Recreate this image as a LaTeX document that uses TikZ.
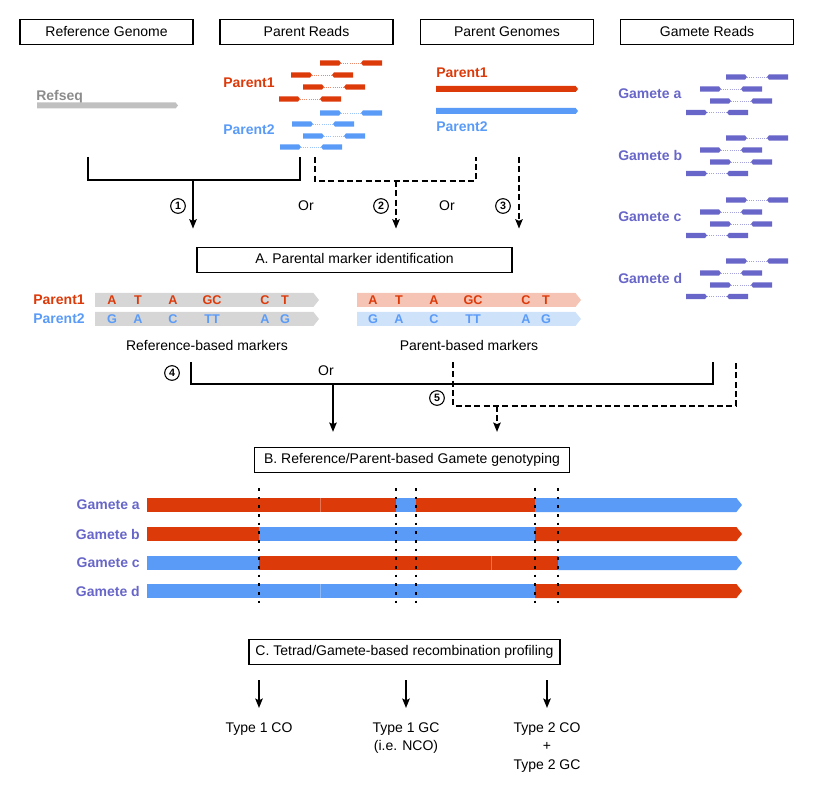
\documentclass[tikz,border=0pt]{standalone}
\usepackage{fontspec}
\setmainfont{Liberation Sans}
\usetikzlibrary{arrows,arrows.meta,positioning}

\definecolor{pred}{RGB}{221,58,10}
\definecolor{pblue}{RGB}{90,155,248}
\definecolor{gpurple}{RGB}{104,102,200}
\definecolor{refgray}{RGB}{192,192,192}
\definecolor{reftext}{RGB}{140,140,140}
\definecolor{mkgray}{RGB}{214,214,214}
\definecolor{lred}{RGB}{245,196,180}
\definecolor{lblue}{RGB}{206,226,250}

\newcommand{\readpair}[3]{%
  \fill[#3] (#1,#2-2.6) -- (#1+19,#2-2.6) -- (#1+21,#2) -- (#1+19,#2+2.6) -- (#1,#2+2.6) -- cycle;
  \draw[#3!60,densely dotted,line width=0.6pt] (#1+21,#2) -- (#1+41,#2);
  \fill[#3] (#1+41,#2) -- (#1+43,#2-2.6) -- (#1+62,#2-2.6) -- (#1+62,#2+2.6) -- (#1+43,#2+2.6) -- cycle;
}
\newcommand{\genbar}[5]{%
  \fill[#5] (#1,#3-#4/2) -- (#2-#4*0.4,#3-#4/2) -- (#2,#3) -- (#2-#4*0.4,#3+#4/2) -- (#1,#3+#4/2) -- cycle;
}
\newcommand{\gseg}[4]{\fill[#4] (#1,#3-7) rectangle (#2,#3+7);}

\begin{document}
\begin{tikzpicture}[x=0.75pt,y=-0.75pt,>={Stealth[length=7pt,width=5.5pt,inset=1.2pt]},font=\fontsize{10.5}{12.5}\selectfont]
  \tikzstyle{headbox}=[draw,line width=1.1pt,minimum width=130pt,minimum height=19pt]
  \tikzstyle{stage}=[draw,line width=1.1pt,minimum height=19pt,text height=7.6pt,text depth=2.2pt]
  \tikzstyle{lab}=[inner sep=0pt,text depth=0pt,font=\fontsize{10.5}{12.5}\selectfont\bfseries]
  \tikzstyle{mk}=[inner sep=0pt,font=\fontsize{9.5}{10}\selectfont\bfseries]
  \tikzstyle{circnum}=[circle,draw,line width=0.8pt,minimum size=11pt,inner sep=0pt,font=\fontsize{8}{8}\selectfont\bfseries]
  \tikzstyle{link}=[line width=1.6pt]
  \tikzstyle{alt}=[line width=1.6pt,dash pattern=on 4.5pt off 2.5pt]
  \tikzstyle{bkpt}=[line width=2pt,dash pattern=on 2pt off 4.5pt]

  \useasboundingbox (0,0) rectangle (813,791);

  \node[headbox] (hRef) at (106.5,32) {Reference Genome};
  \node[headbox] (hPR)  at (306.5,32) {Parent Reads};
  \node[headbox] (hPG)  at (507,32)   {Parent Genomes};
  \node[headbox] (hGR)  at (707,32)   {Gamete Reads};

  \node[lab,reftext,anchor=west] (refseq) at (36,95) {Refseq};
  \genbar{37}{178}{105.5}{6}{refgray}

  \node[lab,pred,anchor=west]  (rp1) at (223,83)  {Parent1};
  \node[lab,pblue,anchor=west] (rp2) at (223,130) {Parent2};
  \foreach \x/\y in {320/63,291/75,303/87,279/99} {\readpair{\x}{\y}{pred}}
  \foreach \x/\y in {320/113,292/124,303/136,280/147} {\readpair{\x}{\y}{pblue}}

  \node[lab,pred,anchor=west]  (gp1) at (436,73)  {Parent1};
  \genbar{436}{578}{89}{6}{pred}
  \genbar{436}{578}{111}{6}{pblue}
  \node[lab,pblue,anchor=west] (gp2) at (436,127) {Parent2};

  \foreach \g/\y in {a/94,b/155,c/217,d/278} {
    \node[lab,gpurple,anchor=west] (gr\g) at (618,\y) {Gamete \g};
    \readpair{726}{\y-17}{gpurple}
    \readpair{700}{\y-5}{gpurple}
    \readpair{710}{\y+7}{gpurple}
    \readpair{686}{\y+18.5}{gpurple}
  }

  \node[stage,minimum width=236pt] (A) at (354.5,260) {A. Parental marker identification};

  \coordinate (s1l) at (88,157);
  \coordinate (s1r) at (300,157);
  \coordinate (j1)  at (193,180);
  \coordinate (d2l) at (315,157);
  \coordinate (d2r) at (476,157);
  \coordinate (j2)  at (396,181);
  \coordinate (d3)  at (519,157);
  \draw[link] (s1l) |- (j1) -| (s1r);
  \draw[link,->,shorten >=13.5pt] (j1) -- (j1 |- A.north);
  \draw[alt] (d2l) |- (j2) -| (d2r);
  \draw[alt,->,shorten >=13.5pt] (j2) -- (j2 |- A.north);
  \draw[alt,->,shorten >=13.5pt] (d3) -- (d3 |- A.north);

  \node[circnum] (n1) at (178,206) {1};
  \node (or1) at (306,206) {Or};
  \node[circnum] (n2) at (381,206) {2};
  \node (or2) at (447,206) {Or};
  \node[circnum] (n3) at (503,206) {3};

  \node[lab,pred,anchor=east]  (mp1) at (85,300) {Parent1};
  \node[lab,pblue,anchor=east] (mp2) at (85,319) {Parent2};
  \genbar{95}{319}{300}{14}{mkgray}
  \genbar{95}{319}{319}{14}{mkgray}
  \genbar{357}{581}{300}{14}{lred}
  \genbar{357}{581}{319}{14}{lblue}
  \foreach \x/\t/\u in {112/A/G,138/T/A,173/A/C,212/GC/TT,265/C/A,285/T/G} {
    \node[mk,pred]  (la\x) at (\x,300) {\t};
    \node[mk,pblue] (lb\x) at (\x,319) {\u};
    \node[mk,pred]  (ra\x) at (\x+261,300) {\t};
    \node[mk,pblue] (rb\x) at (\x+261,319) {\u};
  }
  \node (refmk) at (207,345) {Reference-based markers};
  \node (parmk) at (469,345) {Parent-based markers};

  \node[stage,minimum width=236pt] (B) at (412,460) {B. Reference/Parent-based Gamete genotyping};

  \coordinate (s4l) at (191,362);
  \coordinate (s4r) at (713,362);
  \coordinate (j4)  at (333,384);
  \coordinate (d5l) at (453,362);
  \coordinate (d5r) at (736,362);
  \coordinate (j5)  at (497,406);
  \draw[link] (s4l) |- (j4) -| (s4r);
  \draw[link,->,shorten >=11pt] (j4) -- (j4 |- B.north);
  \draw[alt] (d5l) |- (j5) -| (d5r);
  \draw[alt,->,shorten >=11pt] (j5) -- (j5 |- B.north);

  \node[circnum] (n4) at (172,373) {4};
  \node (or3) at (326,371) {Or};
  \node[circnum] (n5) at (437,398) {5};

  \node[lab,gpurple,anchor=east] (ga) at (140,505) {Gamete a};
  \node[lab,gpurple,anchor=east] (gb) at (140,534) {Gamete b};
  \node[lab,gpurple,anchor=east] (gc) at (140,563) {Gamete c};
  \node[lab,gpurple,anchor=east] (gd) at (140,591) {Gamete d};

  \gseg{147}{397}{505}{pred}
  \gseg{396}{417}{505}{pblue}
  \gseg{416}{536}{505}{pred}
  \genbar{535}{742}{505}{14}{pblue}

  \gseg{147}{260}{534}{pred}
  \gseg{259}{536}{534}{pblue}
  \genbar{535}{742}{534}{14}{pred}

  \gseg{147}{260}{563}{pblue}
  \gseg{259}{559}{563}{pred}
  \genbar{558}{742}{563}{14}{pblue}

  \gseg{147}{536}{591}{pblue}
  \genbar{535}{742}{591}{14}{pred}

  \draw[white,opacity=0.3,line width=0.6pt] (320,498) -- (320,512) (320,584) -- (320,598) (491,556) -- (491,570);

  \foreach \x in {259,396,416,535,558} {\draw[bkpt] (\x,488) -- (\x,606);}

  \node[stage,minimum width=233pt] (C) at (404.5,652) {C. Tetrad/Gamete-based recombination profiling};

  \node[inner sep=0pt,anchor=north] (t1) at (259,722) {Type 1 CO};
  \node[inner sep=0pt,anchor=north,align=center,font=\fontsize{10.5}{14}\selectfont] (t2) at (406,722) {Type 1 GC\\(i.e. NCO)};
  \node[inner sep=0pt,anchor=north,align=center,font=\fontsize{10.5}{14}\selectfont] (t3) at (547,722) {Type 2 CO\\+\\Type 2 GC};
  \draw[link,->,shorten <=11pt,shorten >=10.5pt] (C.south -| t1) -- (t1.north);
  \draw[link,->,shorten <=11pt,shorten >=10.5pt] (C.south -| t2) -- (t2.north);
  \draw[link,->,shorten <=11pt,shorten >=10.5pt] (C.south -| t3) -- (t3.north);
\end{tikzpicture}
\end{document}
